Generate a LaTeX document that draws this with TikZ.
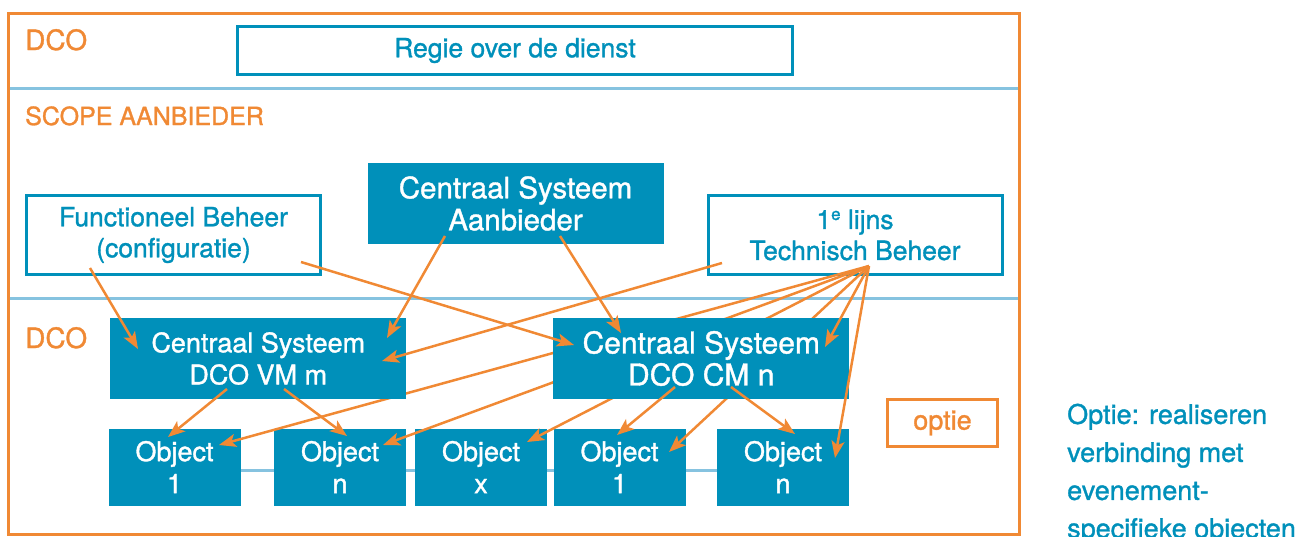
\documentclass[tikz,border=0pt]{standalone}
\usepackage{fontspec}
\setmainfont{TeX Gyre Heros}[UprightFeatures={FakeBold=1.2}]
\usetikzlibrary{arrows.meta,calc}
\definecolor{dblue}{RGB}{0,144,186}
\definecolor{dorange}{RGB}{240,137,52}
\definecolor{lblue}{RGB}{134,195,224}
\tikzset{
  fillbox/.style={fill=dblue, text=white, inner sep=0pt, align=center, minimum width=296pt, minimum height=81pt, font=\fontsize{27}{32}\selectfont},
  objbox/.style={fill=dblue, text=white, inner sep=0pt, align=center, minimum width=132pt, minimum height=77pt, font=\fontsize{27}{32}\selectfont},
  linebox/.style={draw=dblue, line width=3pt, text=dblue, inner sep=0pt, align=center, minimum width=294pt, minimum height=79pt, font=\fontsize{26.5}{31}\selectfont},
  zonelabel/.style={text=dorange, anchor=base west, inner sep=0pt},
  arr/.style={draw=dorange, line width=2.5pt, -{Stealth[length=17pt,width=13pt,inset=4pt]}},
  sepline/.style={draw=lblue, line width=3pt}
}
\begin{document}
\begin{tikzpicture}[x=1pt,y=-1pt]
\useasboundingbox (0,0) rectangle (1310,536);
% frame and zone separators
\coordinate (fnw) at (8.5,13.5);
\coordinate (fse) at (1019.5,534.5);
\draw[sepline] (8.5,88) -- (1019.5,88);
\draw[sepline] (8.5,298) -- (1019.5,298);
\draw[draw=dorange, line width=3pt] (fnw) rectangle (fse);
% zone labels
\node[zonelabel, font=\fontsize{28}{32}\selectfont] (dco1) at (25,50) {DCO};
\node[zonelabel, font=\fontsize{25}{30}\selectfont] (scope) at (25,125) {SCOPE AANBIEDER};
\node[zonelabel, font=\fontsize{28}{32}\selectfont] (dco2) at (25,348) {DCO};
% top boxes
\node[linebox, minimum width=555pt, minimum height=48pt, font=\fontsize{26.5}{31}\selectfont] (regie) at (515,50.5) {Regie over de dienst};
\node[linebox] (func) at (173.5,235) {Functioneel Beheer\\(configuratie)};
\node[fillbox, font=\fontsize{29.5}{32}\selectfont] (aanb) at (515.5,203.5) {Centraal Systeem\\Aanbieder};
\node[linebox] (lijns) at (855,235) {1{\fontsize{17}{20}\selectfont\raisebox{9pt}{e}} lijns\\Technisch Beheer};
% objects
\coordinate (olineL) at (174.5,470);
\coordinate (olineR) at (783,470);
\draw[sepline] (olineL) -- (olineR);
\node[objbox] (o1) at (174.5,467) {Object\\1};
\node[objbox] (on) at (340,467) {Object\\n};
\node[objbox] (ox) at (481,467) {Object\\x};
\node[objbox] (o1b) at (619.5,467) {Object\\1};
\node[objbox] (onb) at (783,467) {Object\\n};
% optie
\node[draw=dorange, line width=3pt, text=dorange, inner sep=0pt, minimum width=110pt, minimum height=47pt, font=\fontsize{27}{32}\selectfont] (optie) at (942.5,423) {optie};
\node[text=dblue, anchor=north west, inner sep=0pt, align=left, font=\fontsize{27}{38}\selectfont] (note) at (1067,403.5) {Optie: realiseren\\verbinding met\\evenement-\\specifieke objecten};
% fan from 1e lijns (behind the CM box)
\coordinate (fan) at (869,266);
\coordinate (t-o1) at (219,445);
\coordinate (t-on) at (383,445);
\coordinate (t-ox) at (527,442);
\coordinate (t-o1b) at (669,452);
\coordinate (t-onb) at (835,458);
\coordinate (t-cm) at (825,347);
\draw[arr] (fan) -- (t-o1);
\draw[arr] (fan) -- (t-on);
\draw[arr] (fan) -- (t-ox);
\draw[arr] (fan) -- (t-o1b);
% central systems DCO
\node[fillbox] (vm) at (258.25,358.5) {Centraal Systeem\\DCO VM m};
\node[fillbox, font=\fontsize{30}{32}\selectfont] (cm) at (701.25,358.5) {Centraal Systeem\\DCO CM n};
\draw[arr] (fan) -- (t-cm);
\draw[arr] (fan) -- (t-onb);
% arrows into central systems
\coordinate (fb1) at (90,268);
\coordinate (fb2) at (301,262);
\coordinate (ab1) at (445,236);
\coordinate (ab2) at (560,236);
\coordinate (lt1) at (722,263);
\coordinate (t-vm1) at (138,349);
\coordinate (t-vm2) at (387,338);
\coordinate (t-vm3) at (382,361);
\coordinate (t-cm1) at (574,345);
\coordinate (t-cm2) at (621,333);
\draw[arr] (fb1) -- (t-vm1);
\draw[arr] (fb2) -- (t-cm1);
\draw[arr] (ab1) -- (t-vm2);
\draw[arr] (ab2) -- (t-cm2);
\draw[arr] (lt1) -- (t-vm3);
% arrows from central systems to objects
\coordinate (vm-s1) at (227,389);
\coordinate (vm-s2) at (284,389);
\coordinate (cm-s1) at (675,387);
\coordinate (cm-s2) at (731,387);
\coordinate (t-o1v) at (168,437);
\coordinate (t-onv) at (347,436);
\coordinate (t-o1c) at (617,435);
\coordinate (t-onc) at (795,434);
\draw[arr] (vm-s1) -- (t-o1v);
\draw[arr] (vm-s2) -- (t-onv);
\draw[arr] (cm-s1) -- (t-o1c);
\draw[arr] (cm-s2) -- (t-onc);
\end{tikzpicture}
\end{document}
